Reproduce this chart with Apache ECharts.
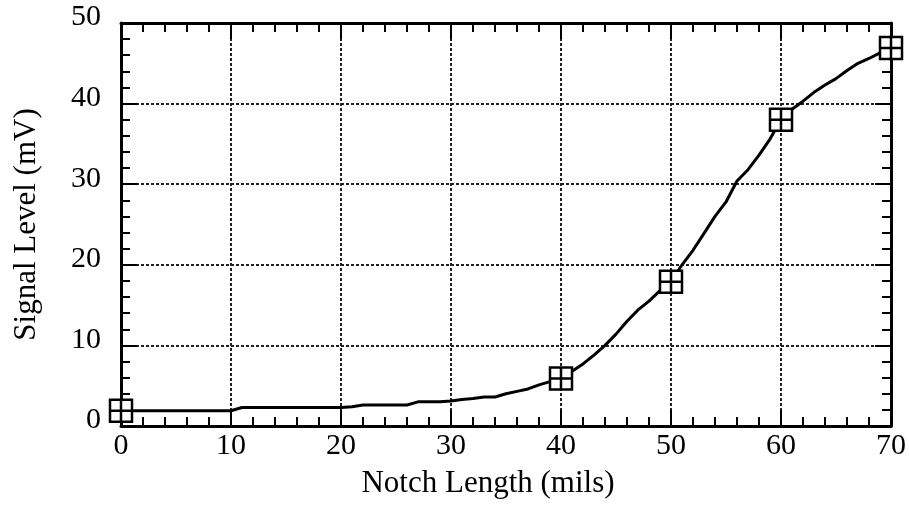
<!DOCTYPE html>
<html>
<head>
<meta charset="utf-8">
<script src="https://cdn.jsdelivr.net/npm/echarts@6/dist/echarts.min.js"></script>
<style>
html, body { margin: 0; padding: 0; background: #fff; }
#chart { width: 909px; height: 508px; }
</style>
</head>
<body>
<div id="chart"></div>
<script>
// notch length (mils) and signal level (mV)
const notchLength = [0, 1, 2, 3, 4, 5, 6, 7, 8, 9, 10, 11, 12, 13, 14, 15, 16, 17, 18, 19, 20,
  21, 22, 23, 24, 25, 26, 27, 28, 29, 30, 31, 32, 33, 34, 35, 36, 37, 38, 39, 40,
  41, 42, 43, 44, 45, 46, 47, 48, 49, 50, 51, 52, 53, 54, 55, 56, 57, 58, 59, 60,
  61, 62, 63, 64, 65, 66, 67, 68, 69, 70]
const signalLevel = [1.9, 1.9, 1.9, 1.9, 1.9, 1.9, 1.9, 1.9, 1.9, 1.9, 1.9, 2.3, 2.3, 2.3, 2.3, 2.3, 2.3, 2.3, 2.3, 2.3, 2.3,
  2.4, 2.6, 2.6, 2.6, 2.6, 2.6, 3.0, 3.0, 3.0, 3.1, 3.3, 3.4, 3.6, 3.6, 4.0, 4.3, 4.6, 5.1, 5.5, 5.9,
  6.8, 7.7, 8.8, 10.0, 11.4, 13.0, 14.4, 15.5, 16.8, 17.9, 20.0, 21.8, 23.9, 26.0, 27.8, 30.4, 31.8, 33.6, 35.6, 38.0,
  39.3, 40.3, 41.4, 42.3, 43.1, 44.1, 45.0, 45.6, 46.3, 46.9]
const markerLength = [0, 40, 50, 60, 70]
const markerLevel = [1.9, 5.9, 17.9, 38.0, 46.9]
const xTicks = [0, 10, 20, 30, 40, 50, 60, 70]
const yTicks = [0, 10, 20, 30, 40, 50]

const font = 'Liberation Serif'
const mychart = echarts.init(document.getElementById('chart'))

const baseAxis = {
  type: 'value',
  interval: 10,
  axisLine: { show: true, onZero: false, lineStyle: { color: '#000', width: 3 } },
  axisTick: { show: true, inside: true, length: 16, lineStyle: { color: '#000', width: 2 } },
  minorTick: { show: true, splitNumber: 5, length: 9, lineStyle: { color: '#000', width: 2 } },
  splitLine: { show: false },
  axisLabel: { show: false }
}
const gridLine = { show: true, lineStyle: { color: '#222', width: 2, type: [3, 2] } }

mychart.setOption({
  backgroundColor: '#fff',
  animation: false,
  grid: { left: 121, top: 23, right: 16, bottom: 82 },
  xAxis: [
    {
      ...baseAxis,
      position: 'bottom',
      min: xTicks[0],
      max: xTicks[xTicks.length - 1],
      name: 'Notch Length (mils)',
      nameLocation: 'middle',
      nameGap: 42,
      nameTextStyle: { fontFamily: font, fontSize: 31, color: '#000', padding: [0, 36, 0, 0] },
      axisLabel: { show: true, margin: 5, fontFamily: font, fontSize: 30, color: '#000' },
      splitLine: gridLine
    },
    {
      ...baseAxis,
      position: 'top',
      min: xTicks[0],
      max: xTicks[xTicks.length - 1]
    }
  ],
  yAxis: [
    {
      ...baseAxis,
      position: 'left',
      min: yTicks[0],
      max: yTicks[yTicks.length - 1],
      name: 'Signal Level (mV)',
      nameLocation: 'middle',
      nameGap: 79,
      nameTextStyle: { fontFamily: font, fontSize: 31, color: '#000' },
      axisLabel: {
        show: true, margin: 20, fontFamily: font, fontSize: 30, color: '#000',
        verticalAlign: 'bottom', lineHeight: 11
      },
      splitLine: gridLine
    },
    {
      ...baseAxis,
      position: 'right',
      min: yTicks[0],
      max: yTicks[yTicks.length - 1]
    }
  ],
  series: [
    {
      type: 'line',
      data: notchLength.map((x, i) => [x, signalLevel[i]]),
      showSymbol: false,
      lineStyle: { color: '#000', width: 3 },
      z: 3
    },
    {
      type: 'scatter',
      data: markerLength.map((x, i) => [x, markerLevel[i]]),
      symbol: 'path://M0,0H20V20H0Z M10,0V20 M0,10H20',
      symbolSize: 22,
      itemStyle: { color: '#fff', borderColor: '#000', borderWidth: 2.5, opacity: 1 },
      z: 4
    }
  ]
})
</script>
</body>
</html>
